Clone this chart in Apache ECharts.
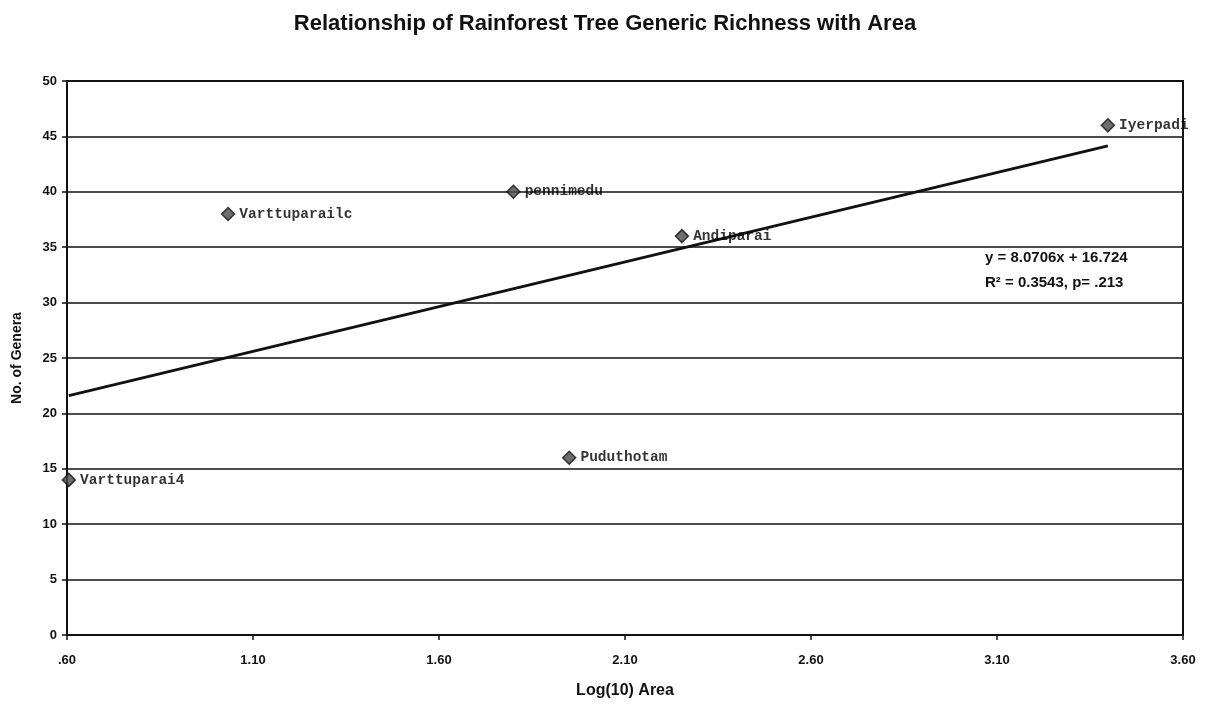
<!DOCTYPE html>
<html>
<head>
<meta charset="utf-8">
<script src="https://cdn.jsdelivr.net/npm/echarts@6/dist/echarts.min.js"></script>
<style>html,body{margin:0;padding:0;background:#fff}#c{width:1210px;height:704px}</style>
</head>
<body>
<div id="c"></div>
<script>
const siteNames = ['Varttuparai4', 'Varttuparailc', 'pennimedu', 'Puduthotam', 'Andiparai', 'Iyerpadi'];
const logArea = [0.605, 1.033, 1.80, 1.95, 2.253, 3.398];
const genera = [14, 38, 40, 16, 36, 46];
const xTickLabels = ['.60', '1.10', '1.60', '2.10', '2.60', '3.10', '3.60'];
const yTicks = [0, 5, 10, 15, 20, 25, 30, 35, 40, 45, 50];
const trendSlope = 8.0706;
const trendIntercept = 16.724;
const equationLines = ['y = 8.0706x + 16.724', 'R² = 0.3543, p= .213'];

const xMin = Math.min(...logArea), xMax = Math.max(...logArea);
const trendData = [[xMin, trendSlope * xMin + trendIntercept], [xMax, trendSlope * xMax + trendIntercept]];
const points = logArea.map((x, i) => ({ value: [x, genera[i]], name: siteNames[i] }));

const chart = echarts.init(document.getElementById('c'), null, { renderer: 'canvas' });
chart.setOption({
  backgroundColor: '#fff',
  animation: false,
  title: {
    text: 'Relationship of Rainforest Tree Generic Richness with Area',
    left: 'center', top: 8,
    textStyle: { fontFamily: 'Liberation Sans', fontWeight: 'bold', fontSize: 22, color: '#111' }
  },
  grid: { left: 67, right: 27, top: 81, bottom: 69, show: true, borderColor: '#111', borderWidth: 2, backgroundColor: 'transparent' },
  xAxis: {
    type: 'value', min: 0.6, max: 3.6, interval: 0.5,
    name: 'Log(10) Area', nameLocation: 'middle', nameGap: 48,
    nameTextStyle: { fontFamily: 'Liberation Sans', fontWeight: 'bold', fontSize: 16, color: '#111' },
    axisLine: { show: true, lineStyle: { color: '#111', width: 2 } },
    axisTick: { show: true, length: 5, lineStyle: { color: '#111', width: 1.5 } },
    splitLine: { show: false },
    axisLabel: {
      margin: 19, fontFamily: 'Liberation Sans', fontWeight: 'bold', fontSize: 13, color: '#111',
      formatter: (v) => xTickLabels[Math.round((v - 0.6) / 0.5)] || ''
    }
  },
  yAxis: {
    type: 'value', min: yTicks[0], max: yTicks[yTicks.length - 1], interval: 5,
    name: 'No. of Genera', nameLocation: 'middle', nameGap: 43,
    nameTextStyle: { fontFamily: 'Liberation Sans', fontWeight: 'bold', fontSize: 14, color: '#111' },
    axisLine: { show: true, lineStyle: { color: '#111', width: 2 } },
    axisTick: { show: true, length: 5, lineStyle: { color: '#111', width: 1.5 } },
    splitLine: { show: true, lineStyle: { color: '#111', width: 1.6 } },
    axisLabel: { margin: 10, fontFamily: 'Liberation Sans', fontWeight: 'bold', fontSize: 13, color: '#111' }
  },
  series: [
    {
      type: 'line', data: trendData, symbol: 'none', silent: true,
      lineStyle: { color: '#111', width: 3 }, z: 3
    },
    {
      type: 'scatter', data: points, symbol: 'diamond', symbolSize: 13, z: 4,
      itemStyle: { color: '#4a4a4a', borderColor: '#111', borderWidth: 1.5 },
      label: {
        show: true, position: 'right', distance: 4,
        formatter: (p) => p.name,
        fontFamily: 'Liberation Mono', fontWeight: 'bold', fontSize: 14.5, color: '#000'
      }
    }
  ],
  graphic: [
    {
      type: 'text', left: 985, top: 250,
      style: { text: equationLines[0], fontFamily: 'Liberation Sans', fontWeight: 'bold', fontSize: 15, fill: '#111' }
    },
    {
      type: 'text', left: 985, top: 275,
      style: { text: equationLines[1], fontFamily: 'Liberation Sans', fontWeight: 'bold', fontSize: 15, fill: '#111' }
    }
  ]
});
</script>
</body>
</html>
